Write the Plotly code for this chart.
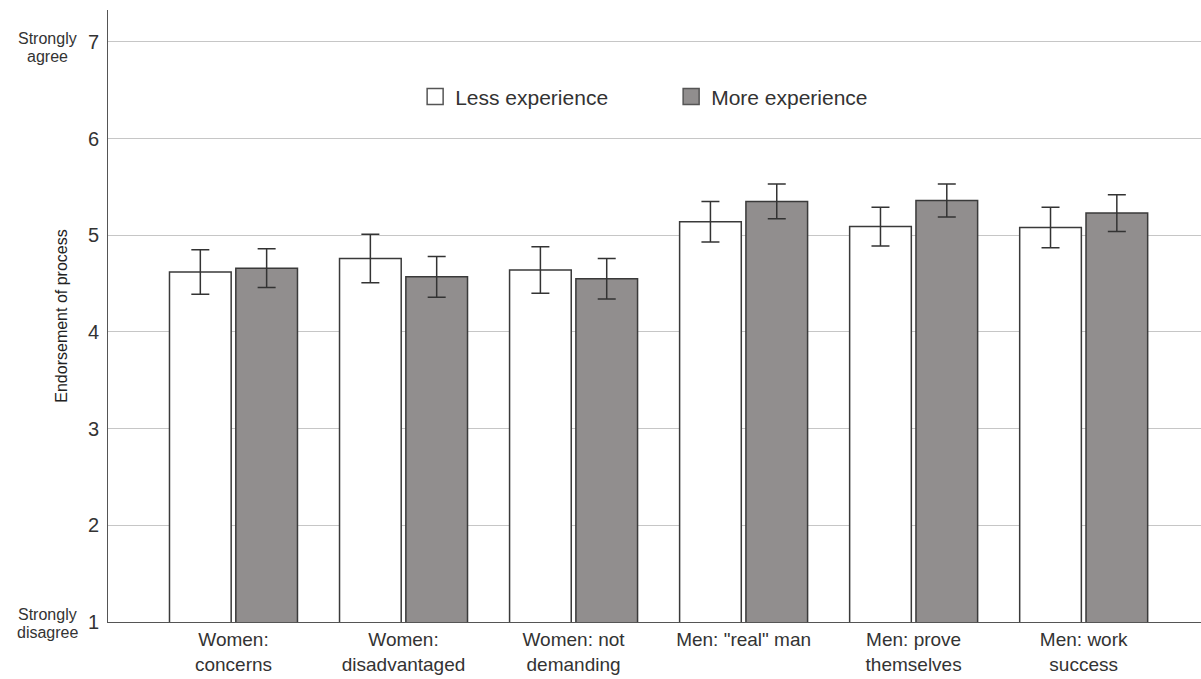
import plotly.graph_objects as go

categories = ["Women:<br>concerns", "Women:<br>disadvantaged", "Women: not<br>demanding",
              "Men: \"real\" man", "Men: prove<br>themselves", "Men: work<br>success"]
less_mean = [4.62, 4.76, 4.64, 5.14, 5.09, 5.08]
less_err = [0.23, 0.25, 0.24, 0.21, 0.20, 0.21]
more_mean = [4.66, 4.57, 4.55, 5.35, 5.36, 5.23]
more_err = [0.20, 0.21, 0.21, 0.18, 0.17, 0.19]
y_ticks = [1, 2, 3, 4, 5, 6, 7]
series_names = ["Less experience", "More experience"]
series_fill = ["#ffffff", "#918e8e"]

x = list(range(len(categories)))
edge = "#3a3a3a"
font = "Liberation Sans, Arial, sans-serif"

fig = go.Figure()
for name, means, errs, fill in zip(series_names, [less_mean, more_mean],
                                   [less_err, more_err], series_fill):
    fig.add_trace(go.Bar(
        x=x, y=means, name=name, showlegend=False, legendgroup=name,
        marker=dict(color=fill, line=dict(color=edge, width=1.5)),
        error_y=dict(type="data", array=errs, color="#333333", thickness=1.5, width=9),
    ))
    # legend entry with a larger square swatch
    fig.add_trace(go.Scatter(
        x=[None], y=[None], mode="markers", name=name, legendgroup=name,
        marker=dict(symbol="square", size=16, color=fill, line=dict(color="#555555", width=1.5)),
    ))

fig.update_layout(
    width=1201, height=679,
    margin=dict(l=108, r=0, t=10, b=57),
    paper_bgcolor="white", plot_bgcolor="white",
    barmode="group", bargap=0.22, bargroupgap=0.07,
    font=dict(family=font, color="#333333"),
    showlegend=True,
    legend=dict(orientation="h", x=0.281, y=0.858, xanchor="left", yanchor="middle",
                font=dict(size=21, color="#333333"), entrywidth=211,
                bgcolor="rgba(0,0,0,0)"),
    xaxis=dict(
        tickmode="array", tickvals=x, ticktext=categories,
        range=[-0.738, 5.69], showgrid=False, zeroline=False,
        showline=True, linecolor="#555555", linewidth=1,
        tickfont=dict(size=19, color="#333333"), ticks="",
    ),
    yaxis=dict(
        tickmode="array", tickvals=y_ticks, ticktext=[str(v) for v in y_ticks],
        range=[1, 7.33], showgrid=True, gridcolor="#c6c6c6", gridwidth=1,
        zeroline=False, showline=True, linecolor="#555555", linewidth=1,
        tickfont=dict(size=20, color="#333333"), ticks="", ticklabelstandoff=4,
        title=dict(text="Endorsement of process", font=dict(size=16, color="#222222"),
                   standoff=16),
    ),
)

# end-point descriptions beside the top and bottom ticks
for words, yv, dy in [(["Strongly", "agree"], 7, [-3, 15]), (["Strongly", "disagree"], 1, [-8, 10])]:
    for w, off in zip(words, dy):
        fig.add_annotation(text=w, xref="paper", yref="y", x=-0.0558, y=yv, yshift=-off,
                           xanchor="center", yanchor="middle", showarrow=False,
                           font=dict(size=16, color="#333333"))

fig.write_html("out.html")
